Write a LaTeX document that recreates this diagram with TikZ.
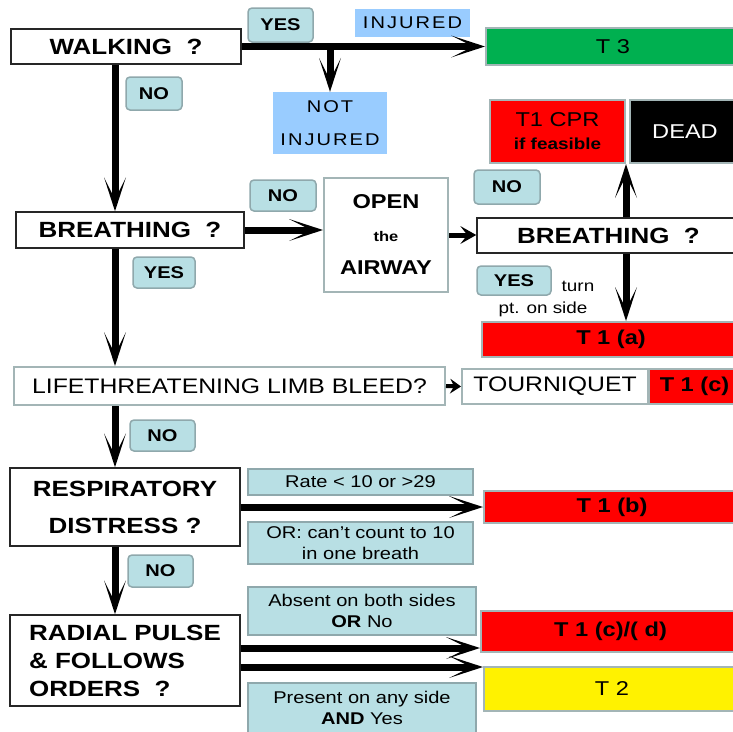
\documentclass[tikz,border=0pt]{standalone}
\usepackage{fontspec}
\setmainfont{Liberation Sans}[FakeStretch=1.18]
\usetikzlibrary{positioning,arrows.meta}

\definecolor{lblteal}{HTML}{B8DFE4}
\definecolor{lblline}{HTML}{8FA8AC}
\definecolor{skyblue}{HTML}{99CCFF}
\definecolor{tgreen}{HTML}{00B050}
\definecolor{boxline}{HTML}{A3B5B6}

\begin{document}
\begin{tikzpicture}[x=1pt, y=-1pt,
            every node/.style={inner sep=0pt, align=center},
            qbox/.style={draw=black!85, line width=1.5pt, fill=white, font=\fontsize{22}{37}\selectfont\bfseries},
            gbox/.style={draw=boxline, line width=2pt, fill=white, font=\fontsize{21}{33}\selectfont},
            lbl/.style={draw=lblline, line width=1.5pt, fill=lblteal, rounded corners=4pt, font=\fontsize{17}{20}\selectfont\bfseries},
            note/.style={draw=lblline, line width=1.5pt, fill=lblteal, font=\fontsize{17}{21}\selectfont},
            tag/.style={draw=boxline, line width=2pt, font=\fontsize{20}{23}\selectfont},
            blu/.style={fill=skyblue, font=\fontsize{17}{33}\selectfont\addfontfeature{LetterSpace=12}},
            bigarrow/.style={line width=7pt, -{Stealth[length=34pt,width=22pt,inset=22pt,line width=0pt]}},
            smallarrow/.style={line width=5pt, -{Stealth[length=16pt,width=18pt,inset=7pt,line width=0pt]}}
        ]
        \useasboundingbox (0,0) rectangle (733,731);
        \coordinate (spine) at (115,0);
        \coordinate (side) at (626,0);

        % first question
        \node[qbox, minimum width=230pt, minimum height=35pt] (walk) at (126,46.5) {WALKING\ \ ?};
        \node[tag, fill=tgreen, minimum width=254pt, minimum height=37pt] (t3) at (613,46.5) {T 3};
        \node[lbl, minimum width=65pt, minimum height=34pt] (yes1) at (280.5,25) {YES};
        \node[blu, minimum width=115pt, minimum height=28pt] (inj) at (412.5,23) {INJURED};
        \node[blu, minimum width=114pt, minimum height=62pt] (notinj) at (330,123) {NOT\\INJURED};
        \node[lbl, minimum width=56pt, minimum height=33pt] (no1) at (154,93.5) {NO};

        % breathing
        \node[qbox, minimum width=228pt, minimum height=36pt] (br1) at (130,230) {BREATHING\ \ ?};
        \node[lbl, minimum width=66pt, minimum height=31pt] (no2) at (283,195.5) {NO};
        \node[gbox, minimum width=124pt, minimum height=114pt, font=\fontsize{20}{33}\selectfont\bfseries] (open) at (386,235)
            {OPEN\\{\fontsize{14}{14}\selectfont the}\\AIRWAY};
        \node[qbox, minimum width=263pt, minimum height=35pt] (br2) at (608.5,235.5) {BREATHING\ \ ?};
        \node[lbl, minimum width=66pt, minimum height=34pt] (no3) at (507,187) {NO};
        \node[tag, fill=red, minimum width=135pt, minimum height=63pt] (cpr) at (557.5,131.5)
            {T1 CPR\\{\fontsize{16}{16}\selectfont\bfseries if feasible}};
        \node[tag, fill=black, text=white, minimum width=110pt, minimum height=63pt] (dead) at (685,131.5) {DEAD};
        \node[lbl, minimum width=74pt, minimum height=29pt] (yes3) at (514,280.5) {YES};
        \node[font=\fontsize{16}{18}\selectfont] (turn) at (578,286) {turn};
        \node[font=\fontsize{16}{18}\selectfont] (onside) at (543,309) {pt. on side};
        \node[tag, fill=red, font=\fontsize{20}{23}\selectfont\bfseries, minimum width=258pt, minimum height=35pt] (t1a) at (611,339.5) {T 1 (a)};
        \node[lbl, minimum width=62pt, minimum height=31pt] (yes2) at (164,272.5) {YES};

        % bleeding
        \node[gbox, minimum width=431pt, minimum height=38pt] (life) at (229.5,386) {LIFETHREATENING LIMB BLEED?};
        \node[gbox, minimum width=186pt, minimum height=35pt] (tq) at (555,386.5) {TOURNIQUET};
        \node[tag, fill=red, font=\fontsize{20}{23}\selectfont\bfseries, minimum width=91pt, minimum height=35pt] (t1c) at (694.5,386.5) {T 1 (c)};
        \node[lbl, minimum width=65pt, minimum height=31pt] (no4) at (162.5,435.5) {NO};

        % respiration
        \node[qbox, minimum width=230pt, minimum height=78pt] (resp) at (125,507) {RESPIRATORY\\DISTRESS ?};
        \node[note, minimum width=225pt, minimum height=26pt] (rate) at (360.5,482) {Rate < 10 or >29};
        \node[note, minimum width=225pt, minimum height=42pt] (orl) at (360.5,543) {OR: can't count to 10\\in one breath};
        \node[tag, fill=red, font=\fontsize{20}{23}\selectfont\bfseries, minimum width=256pt, minimum height=32pt] (t1b) at (612,507) {T 1 (b)};
        \node[lbl, minimum width=65pt, minimum height=32pt] (no5) at (160.5,571) {NO};

        % pulse
        \node[qbox, align=left, minimum width=230pt, minimum height=91pt, font=\fontsize{22}{28}\selectfont\bfseries] (rad) at (125,660.5)
            {RADIAL PULSE\\\& FOLLOWS\\ORDERS\ \ ?};
        \node[note, minimum width=228pt, minimum height=48pt] (abs) at (362,611) {Absent on both sides\\\textbf{OR} No};
        \node[note, minimum width=228pt, minimum height=50pt] (pres) at (362,708) {Present on any side\\\textbf{AND} Yes};
        \node[tag, fill=red, font=\fontsize{20}{23}\selectfont\bfseries, minimum width=259pt, minimum height=41pt] (t1cd) at (610.5,631.5) {T 1 (c)/( d)};
        \node[tag, fill=yellow, minimum width=256pt, minimum height=44pt] (t2) at (612,689) {T 2};

        % connectors
        \draw[bigarrow] (walk.east) -- (t3.west);
        \draw[bigarrow] (walk.east -| notinj.north) -- (notinj.north);
        \draw[bigarrow] (walk.south -| spine) -- (br1.north -| spine);
        \draw[bigarrow] (br1.east) -- (br1.east -| open.west);
        \draw[smallarrow] (open.east) -- (open.east -| br2.west);
        \draw[bigarrow] (br2.north -| side) -- (cpr.south -| side);
        \draw[bigarrow] (br2.south -| side) -- (t1a.north -| side);
        \draw[bigarrow] (br1.south -| spine) -- (life.north -| spine);
        \draw[smallarrow, line width=4pt, -{Stealth[length=11pt,width=15pt,inset=4pt,line width=0pt]}] (life.east) -- (tq.west);
        \draw[bigarrow] (life.south -| spine) -- (resp.north -| spine);
        \draw[bigarrow] (resp.east) -- (t1b.west);
        \draw[bigarrow] (resp.south -| spine) -- (rad.north -| spine);
        \draw[bigarrow] ([yshift=12.5pt]rad.east) -- ([yshift=12.5pt]rad.east -| t1cd.west);
        \draw[bigarrow] ([yshift=-6.5pt]rad.east) -- ([yshift=-6.5pt]rad.east -| t2.west);
    \end{tikzpicture}
\end{document}
